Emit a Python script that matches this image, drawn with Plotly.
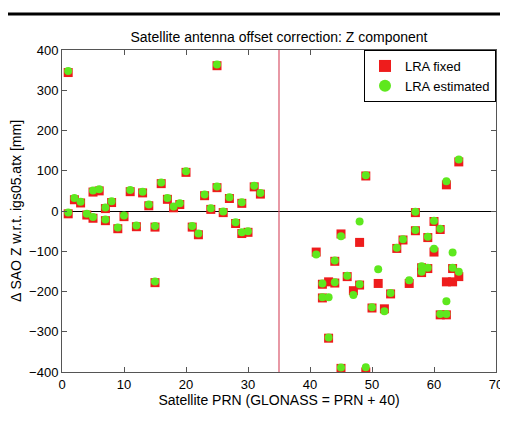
import plotly.graph_objects as go

# LRA fixed (red squares)
prn_fixed = [1, 1, 2, 3, 4, 5, 5, 6, 7, 7, 8, 9, 10, 11, 12, 13, 14, 15, 15, 16,
             17, 18, 19, 20, 21, 22, 23, 24, 25, 25, 26, 27, 28, 29, 29, 30, 31, 32,
             41, 42, 42, 43, 43, 44, 44, 45, 45, 46, 47, 48, 48, 49, 49, 50, 51, 52,
             53, 54, 55, 56, 57, 57, 58, 58, 59, 59, 60, 60, 61, 61, 62, 62, 62,
             63, 63, 64, 64]
z_fixed = [344, -7, 28, 20, -10, 47, -18, 50, 6, -24, 21, -44, -14, 48, -39, 45, 13, -40, -178, 68,
           29, 8, 16, 96, -40, -59, 38, 4, 58, 361, -4, 31, -31, 19, -56, -53, 60, 42,
           -102, -182, -216, -176, -316, -125, -179, -57, -391, -163, -198, -78, -184, 87, -400, -241, -180, -243,
           -206, -93, -72, -180, -4, -49, -141, -153, -66, -143, -26, -102, -46, -258, 65, -176, -258,
           -143, -176, 122, -163]

# LRA estimated (green circles)
prn_est = [1, 1, 2, 3, 4, 5, 5, 6, 7, 7, 8, 9, 10, 11, 12, 13, 14, 15, 15, 16,
           17, 18, 19, 20, 21, 22, 23, 24, 25, 25, 26, 27, 28, 29, 29, 30, 31, 32,
           41, 42, 42, 43, 43, 44, 44, 45, 45, 46, 47, 48, 48, 49, 49, 50, 51, 52,
           53, 54, 55, 56, 57, 57, 58, 58, 59, 59, 60, 60, 61, 61, 62, 62, 62,
           63, 63, 64, 64]
z_est = [348, -4, 32, 23, -7, 51, -15, 54, 9, -21, 24, -41, -11, 52, -36, 48, 16, -37, -175, 71,
         32, 11, 19, 99, -37, -56, 41, 7, 61, 364, -1, 34, -28, 22, -53, -50, 63, 45,
         -108, -180, -214, -214, -314, -123, -177, -63, -389, -161, -209, -26, -182, 89, -388, -239, -145, -249,
         -204, -91, -70, -172, -2, -47, -137, -151, -64, -141, -24, -94, -44, -256, 74, -224, -256,
         -103, -141, 128, -151]

x_ticks = [0, 10, 20, 30, 40, 50, 60, 70]
y_ticks = [-400, -300, -200, -100, 0, 100, 200, 300, 400]
glonass_split = 35

FONT = "Liberation Sans, Arial, Helvetica, sans-serif"

W, H = 500, 419          # page adds an 8px body margin
L, T, R, B = 54, 42, 12, 55
PW, PH = W - L - R, H - T - B

fig = go.Figure()
fig.add_trace(go.Scatter(
    x=prn_fixed, y=z_fixed, mode="markers", name="LRA fixed",
    marker=dict(symbol="square", size=9, color="#ee1c1c", line=dict(width=0)),
))
fig.add_trace(go.Scatter(
    x=prn_est, y=z_est, mode="markers", name="LRA estimated",
    marker=dict(symbol="circle", size=8, color="#5ee81e", line=dict(width=0)),
))

fig.add_shape(type="line", xref="x", yref="paper", x0=glonass_split, x1=glonass_split,
              y0=0, y1=1, line=dict(color="#d9546a", width=1.2))
# page rule at top
fig.add_shape(type="line", xref="paper", yref="paper", x0=-0.15, x1=1.05,
              y0=1 + 36 / PH, y1=1 + 36 / PH, line=dict(color="black", width=3))

axis_common = dict(
    showline=True, linecolor="#555555", linewidth=1, mirror="ticks",
    ticks="inside", ticklen=5, tickcolor="#555555", showgrid=False, automargin=False,
    tickfont=dict(family=FONT, size=13, color="black"),
)

fig.update_layout(
    width=W, height=H,
    margin=dict(l=L, r=R, t=T, b=B),
    paper_bgcolor="white", plot_bgcolor="white",
    font=dict(family=FONT, size=13, color="black"),
    title=dict(text="Satellite antenna offset correction: Z component",
               x=(L + PW / 2) / W, xanchor="center", y=1 - 29 / H, yanchor="middle",
               font=dict(family=FONT, size=14, color="black")),
    xaxis=dict(range=[0, 70], tickvals=x_ticks, zeroline=False,
               title=dict(text="Satellite PRN (GLONASS = PRN + 40)", standoff=0,
                          font=dict(family=FONT, size=14)),
               **axis_common),
    yaxis=dict(range=[-400, 400], tickvals=y_ticks, zeroline=True, zerolinecolor="black",
               zerolinewidth=1,
               title=dict(text="Δ SAO Z w.r.t. igs05.atx [mm]", standoff=4,
                          font=dict(family=FONT, size=14)),
               **axis_common),
    legend=dict(x=1, y=1, xanchor="right", yanchor="top", bgcolor="white",
                bordercolor="black", borderwidth=1,
                font=dict(family=FONT, size=13, color="black"),
                itemsizing="constant", tracegroupgap=0),
    showlegend=True,
)

fig.write_html("out.html")
